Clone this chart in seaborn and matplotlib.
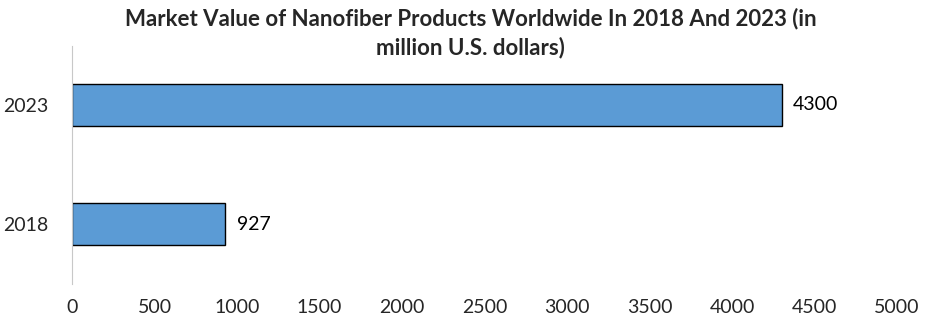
import matplotlib
matplotlib.use("Agg")
import matplotlib.pyplot as plt
import seaborn as sns
import pandas as pd

years = ["2023", "2018"]
values = [4300, 927]
x_ticks = [0, 500, 1000, 1500, 2000, 2500, 3000, 3500, 4000, 4500, 5000]
title = "Market Value of Nanofiber Products Worldwide In 2018 And 2023 (in\nmillion U.S. dollars)"

sns.set_theme(style="white")
plt.rcParams["font.family"] = ["Lato", "DejaVu Sans"]

df = pd.DataFrame({"year": years, "value": values})

fig = plt.figure(figsize=(9.41, 3.25), dpi=100)
ax = fig.add_axes([72 / 941, 1 - 283.5 / 325, 825 / 941, 238 / 325])

sns.barplot(data=df, x="value", y="year", orient="h", color="#5B9BD5",
            width=0.35, edgecolor="black", linewidth=1.0, saturation=1, ax=ax)

ax.set_xlim(0, 5000)
ax.set_ylim(1.5, -0.5)
ax.set_xticks(x_ticks)
ax.set_xticklabels([str(t) for t in x_ticks], fontsize=14)
ax.tick_params(axis="x", length=0, pad=11)
ax.tick_params(axis="y", length=0, pad=17, labelsize=14)
ax.set_xlabel("")
ax.set_ylabel("")

for s in ["top", "right", "bottom"]:
    ax.spines[s].set_visible(False)
ax.spines["left"].set_color("#c8c8c8")
ax.spines["left"].set_linestyle((0, (1, 1)))
ax.spines["left"].set_linewidth(0.8)

for i, v in enumerate(values):
    ax.text(v + 70, i, f"{v}", va="center", ha="left", fontsize=14, color="black")

fig.text(0.5, 1 - 33 / 325, title, ha="center", va="center", fontsize=16,
         fontweight="bold", linespacing=1.45)

fig.savefig("out.png", dpi=100)
